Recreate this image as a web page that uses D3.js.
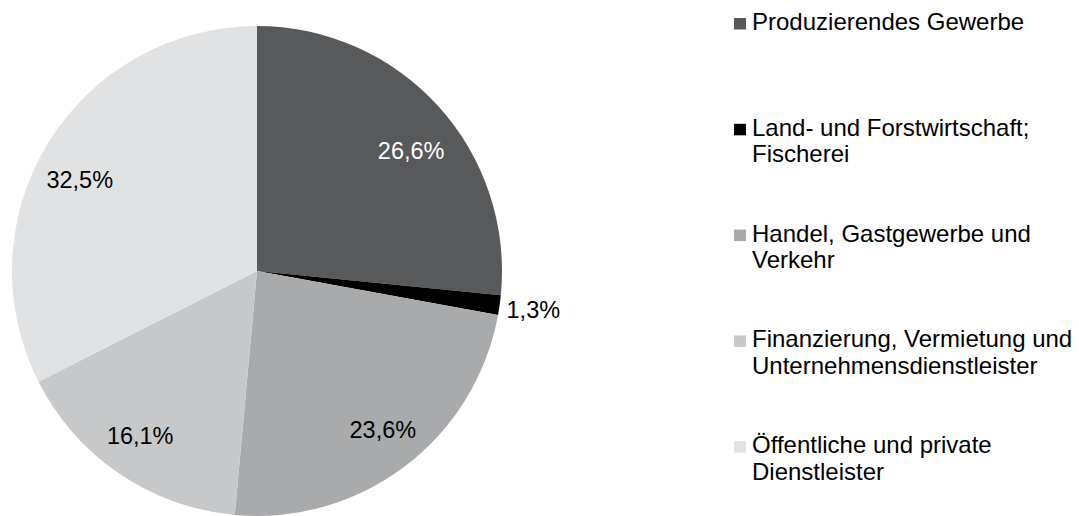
<!DOCTYPE html>
<html>
<head>
<meta charset="utf-8">
<script src="https://cdn.jsdelivr.net/npm/d3@7"></script>
<style>
  html, body { margin: 0; padding: 0; background: #fff; }
  svg { display: block; font-family: "Liberation Sans", Arial, sans-serif; }
</style>
</head>
<body>
<svg id="chart" width="1079" height="516"></svg>
<script>
// Sector shares (per cent), clockwise from 12 o'clock
const categories = [
  ["Produzierendes Gewerbe"],
  ["Land- und Forstwirtschaft;", "Fischerei"],
  ["Handel, Gastgewerbe und", "Verkehr"],
  ["Finanzierung, Vermietung und", "Unternehmensdienstleister"],
  ["Öffentliche und private", "Dienstleister"]
];
const values = [26.6, 1.3, 23.6, 16.1, 32.5];
const valueLabels = ["26,6%", "1,3%", "23,6%", "16,1%", "32,5%"];
const colors = ["#58595b", "#000000", "#a9aaac", "#c7c8ca", "#e1e2e3"];
const labelColors = ["#ffffff", "#000000", "#000000", "#000000", "#000000"];

const svg = d3.select("#chart");
const cx = 257, cy = 271, radius = 245;

const pie = d3.pie().sort(null).value(d => d);
const arcs = pie(values);

const arc = d3.arc().innerRadius(0).outerRadius(radius);

const g = svg.append("g").attr("transform", `translate(${cx},${cy})`);

g.selectAll("path.slice")
  .data(arcs)
  .join("path")
  .attr("class", "slice")
  .attr("d", arc)
  .attr("fill", (d, i) => colors[i]);

// Value labels: wide text boxes sit a little further out sideways than
// vertically; the thin slice gets its label just outside the rim
const minInside = 5;
const labelRx = 208, labelRy = 190, labelShift = 8;
g.selectAll("text.value")
  .data(arcs)
  .join("text")
  .attr("class", "value")
  .attr("font-size", 23.5)
  .attr("fill", (d, i) => labelColors[i])
  .attr("dominant-baseline", "central")
  .each(function(d, i) {
    const t = d3.select(this).text(valueLabels[i]);
    const a = (d.startAngle + d.endAngle) / 2;
    if (d.data >= minInside) {
      t.attr("x", Math.sin(a) * labelRx)
       .attr("y", -Math.cos(a) * labelRy + labelShift)
       .attr("text-anchor", "middle");
    } else {
      const rr = radius + 7;
      t.attr("x", Math.sin(a) * rr)
       .attr("y", -Math.cos(a) * rr + 4)
       .attr("text-anchor", "start");
    }
  });

// Legend
const legend = svg.append("g").attr("transform", "translate(734,0)");
const rowStep = 105.8, firstBaseline = 30, lineStep = 26.5;
const items = legend.selectAll("g.item")
  .data(categories)
  .join("g")
  .attr("class", "item")
  .attr("transform", (d, i) => `translate(0,${firstBaseline + i * rowStep})`);

items.append("rect")
  .attr("x", 0).attr("y", -12)
  .attr("width", 12).attr("height", 11.5)
  .attr("fill", (d, i) => colors[i]);

items.append("text")
  .attr("x", 18)
  .attr("font-size", 24)
  .attr("fill", "#000")
  .selectAll("tspan")
  .data(d => d)
  .join("tspan")
  .attr("x", 18)
  .attr("dy", (d, j) => j === 0 ? 0 : lineStep)
  .text(d => d);
</script>
</body>
</html>
